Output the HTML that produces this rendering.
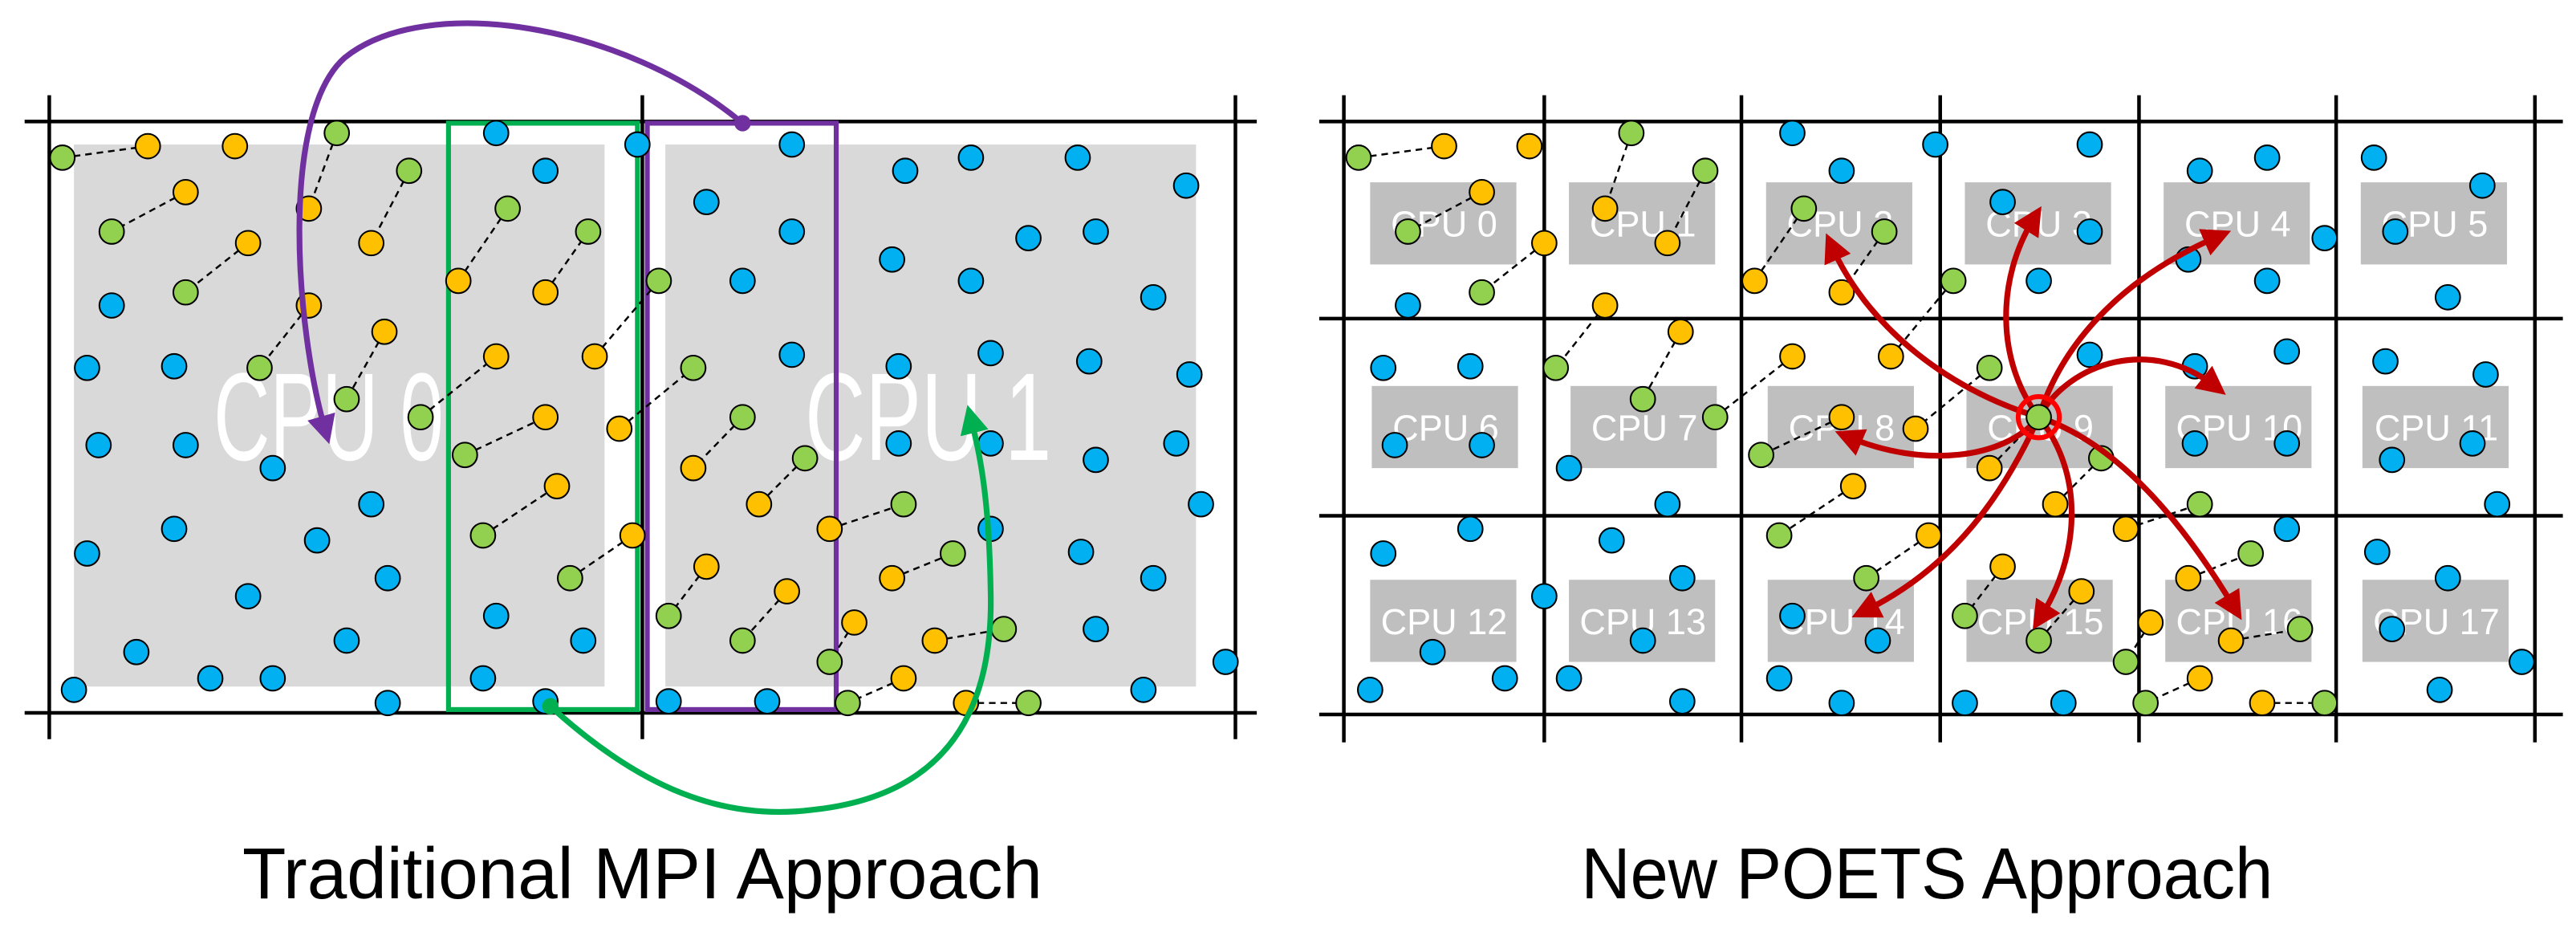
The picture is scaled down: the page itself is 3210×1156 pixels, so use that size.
<!DOCTYPE html>
<html><head><meta charset="utf-8"><style>
html,body{margin:0;padding:0;background:#fff;}
svg{display:block;}
.b{fill:#00b0f0;stroke:#000;stroke-width:1}
.o{fill:#ffc000;stroke:#000;stroke-width:1}
.g{fill:#92d050;stroke:#000;stroke-width:1}
.d{stroke:#000;stroke-width:1.2;stroke-dasharray:4,3;fill:none}
.gl{stroke:#000;stroke-width:2.2}
.cpu{fill:#fff;font-family:"Liberation Sans",sans-serif;font-size:22px;text-anchor:middle}
.r{stroke:#c00000;stroke-width:3.5;fill:none}
</style></head><body>
<svg width="3210" height="1156" viewBox="0 0 1568 565" preserveAspectRatio="none" xmlns="http://www.w3.org/2000/svg">
<defs>
<marker id="ar" viewBox="0 0 10 10" refX="5" refY="5" markerWidth="5" markerHeight="5" orient="auto"><path d="M0,0 L10,5 L0,10 z" fill="#c00000"/></marker>
<marker id="ap" viewBox="0 0 10 10" refX="5" refY="5" markerWidth="5" markerHeight="5" orient="auto"><path d="M0,0 L10,5 L0,10 z" fill="#7030a0"/></marker>
<marker id="ag" viewBox="0 0 10 10" refX="5" refY="5" markerWidth="5" markerHeight="5" orient="auto"><path d="M0,0 L10,5 L0,10 z" fill="#00b050"/></marker>
</defs>
<!-- LEFT PANEL -->
<rect x="45" y="88" width="323" height="330" fill="#d9d9d9"/>
<rect x="405" y="88" width="323" height="330" fill="#d9d9d9"/>
<text x="200" y="280" fill="#fff" font-family="Liberation Sans,sans-serif" font-size="76" text-anchor="middle" textLength="140" lengthAdjust="spacingAndGlyphs">CPU 0</text>
<text x="565" y="280" fill="#fff" font-family="Liberation Sans,sans-serif" font-size="76" text-anchor="middle" textLength="150" lengthAdjust="spacingAndGlyphs">CPU 1</text>
<line class="gl" x1="15" y1="74" x2="765" y2="74"/>
<line class="gl" x1="15" y1="434" x2="765" y2="434"/>
<line class="gl" x1="30" y1="58" x2="30" y2="450"/>
<line class="gl" x1="391" y1="58" x2="391" y2="450"/>
<line class="gl" x1="752" y1="58" x2="752" y2="450"/>
<rect x="273" y="75" width="115" height="357" fill="none" stroke="#00b050" stroke-width="3"/>
<rect x="394" y="75" width="115" height="357" fill="none" stroke="#7030a0" stroke-width="3"/>
<g>
<line class="d" x1="38" y1="96" x2="90" y2="89"/><line class="d" x1="205" y1="81" x2="188" y2="127"/>
<line class="d" x1="249" y1="104" x2="226" y2="148"/><line class="d" x1="113" y1="117" x2="68" y2="141"/>
<line class="d" x1="151" y1="148" x2="113" y2="178"/><line class="d" x1="188" y1="186" x2="158" y2="224"/>
<line class="d" x1="234" y1="202" x2="211" y2="243"/><line class="d" x1="256" y1="254" x2="302" y2="217"/>
<line class="d" x1="283" y1="277" x2="332" y2="254"/><line class="d" x1="279" y1="171" x2="309" y2="127"/>
<line class="d" x1="332" y1="178" x2="358" y2="141"/><line class="d" x1="362" y1="217" x2="401" y2="171"/>
<line class="d" x1="377" y1="261" x2="422" y2="224"/><line class="d" x1="294" y1="326" x2="339" y2="296"/>
<line class="d" x1="347" y1="352" x2="385" y2="326"/><line class="d" x1="452" y1="254" x2="422" y2="285"/>
<line class="d" x1="490" y1="279" x2="462" y2="307"/><line class="d" x1="430" y1="345" x2="407" y2="375"/>
<line class="d" x1="479" y1="360" x2="452" y2="390"/><line class="d" x1="505" y1="322" x2="550" y2="307"/>
<line class="d" x1="543" y1="352" x2="580" y2="337"/><line class="d" x1="520" y1="379" x2="505" y2="403"/>
<line class="d" x1="569" y1="390" x2="611" y2="383"/><line class="d" x1="550" y1="413" x2="516" y2="428"/>
<line class="d" x1="588" y1="428" x2="626" y2="428"/>
</g>
<g>
<circle class="g" cx="38" cy="96" r="7.5"/><circle class="o" cx="90" cy="89" r="7.5"/><circle class="o" cx="143" cy="89" r="7.5"/>
<circle class="g" cx="205" cy="81" r="7.5"/><circle class="o" cx="188" cy="127" r="7.5"/>
<circle class="g" cx="249" cy="104" r="7.5"/><circle class="o" cx="226" cy="148" r="7.5"/>
<circle class="o" cx="113" cy="117" r="7.5"/><circle class="g" cx="68" cy="141" r="7.5"/>
<circle class="o" cx="151" cy="148" r="7.5"/><circle class="g" cx="113" cy="178" r="7.5"/>
<circle class="o" cx="188" cy="186" r="7.5"/><circle class="g" cx="158" cy="224" r="7.5"/>
<circle class="o" cx="234" cy="202" r="7.5"/><circle class="g" cx="211" cy="243" r="7.5"/>
<circle class="b" cx="68" cy="186" r="7.5"/><circle class="b" cx="53" cy="224" r="7.5"/><circle class="b" cx="106" cy="223" r="7.5"/>
<circle class="b" cx="60" cy="271" r="7.5"/><circle class="b" cx="113" cy="271" r="7.5"/><circle class="b" cx="166" cy="285" r="7.5"/>
<circle class="b" cx="226" cy="307" r="7.5"/><circle class="b" cx="106" cy="322" r="7.5"/><circle class="b" cx="53" cy="337" r="7.5"/>
<circle class="b" cx="193" cy="329" r="7.5"/><circle class="b" cx="236" cy="352" r="7.5"/><circle class="b" cx="151" cy="363" r="7.5"/>
<circle class="b" cx="211" cy="390" r="7.5"/><circle class="b" cx="83" cy="397" r="7.5"/><circle class="b" cx="128" cy="413" r="7.5"/>
<circle class="b" cx="166" cy="413" r="7.5"/><circle class="b" cx="45" cy="420" r="7.5"/><circle class="b" cx="236" cy="428" r="7.5"/>
<circle class="g" cx="256" cy="254" r="7.5"/><circle class="o" cx="302" cy="217" r="7.5"/>
<circle class="g" cx="283" cy="277" r="7.5"/><circle class="o" cx="332" cy="254" r="7.5"/>
<circle class="o" cx="279" cy="171" r="7.5"/><circle class="g" cx="309" cy="127" r="7.5"/>
<circle class="o" cx="332" cy="178" r="7.5"/><circle class="g" cx="358" cy="141" r="7.5"/>
<circle class="o" cx="362" cy="217" r="7.5"/><circle class="g" cx="401" cy="171" r="7.5"/>
<circle class="o" cx="377" cy="261" r="7.5"/><circle class="g" cx="422" cy="224" r="7.5"/>
<circle class="g" cx="294" cy="326" r="7.5"/><circle class="o" cx="339" cy="296" r="7.5"/>
<circle class="g" cx="347" cy="352" r="7.5"/><circle class="o" cx="385" cy="326" r="7.5"/>
<circle class="b" cx="302" cy="81" r="7.5"/><circle class="b" cx="332" cy="104" r="7.5"/><circle class="b" cx="388" cy="88" r="7.5"/>
<circle class="b" cx="302" cy="375" r="7.5"/><circle class="b" cx="355" cy="390" r="7.5"/><circle class="b" cx="294" cy="413" r="7.5"/>
<circle class="b" cx="332" cy="427" r="7.5"/>
<circle class="b" cx="482" cy="88" r="7.5"/><circle class="b" cx="430" cy="123" r="7.5"/><circle class="b" cx="482" cy="141" r="7.5"/>
<circle class="b" cx="452" cy="171" r="7.5"/><circle class="b" cx="482" cy="216" r="7.5"/><circle class="b" cx="407" cy="427" r="7.5"/>
<circle class="b" cx="467" cy="427" r="7.5"/>
<circle class="g" cx="452" cy="254" r="7.5"/><circle class="o" cx="422" cy="285" r="7.5"/>
<circle class="g" cx="490" cy="279" r="7.5"/><circle class="o" cx="462" cy="307" r="7.5"/>
<circle class="o" cx="430" cy="345" r="7.5"/><circle class="g" cx="407" cy="375" r="7.5"/>
<circle class="o" cx="479" cy="360" r="7.5"/><circle class="g" cx="452" cy="390" r="7.5"/>
<circle class="o" cx="505" cy="322" r="7.5"/><circle class="g" cx="550" cy="307" r="7.5"/>
<circle class="o" cx="543" cy="352" r="7.5"/><circle class="g" cx="580" cy="337" r="7.5"/>
<circle class="o" cx="520" cy="379" r="7.5"/><circle class="g" cx="505" cy="403" r="7.5"/>
<circle class="o" cx="569" cy="390" r="7.5"/><circle class="g" cx="611" cy="383" r="7.5"/>
<circle class="o" cx="550" cy="413" r="7.5"/><circle class="g" cx="516" cy="428" r="7.5"/>
<circle class="o" cx="588" cy="428" r="7.5"/><circle class="g" cx="626" cy="428" r="7.5"/>
<circle class="b" cx="551" cy="104" r="7.5"/><circle class="b" cx="591" cy="96" r="7.5"/><circle class="b" cx="656" cy="96" r="7.5"/>
<circle class="b" cx="722" cy="113" r="7.5"/><circle class="b" cx="626" cy="145" r="7.5"/><circle class="b" cx="667" cy="141" r="7.5"/>
<circle class="b" cx="543" cy="158" r="7.5"/><circle class="b" cx="591" cy="171" r="7.5"/><circle class="b" cx="702" cy="181" r="7.5"/>
<circle class="b" cx="547" cy="223" r="7.5"/><circle class="b" cx="603" cy="215" r="7.5"/><circle class="b" cx="663" cy="220" r="7.5"/>
<circle class="b" cx="724" cy="228" r="7.5"/><circle class="b" cx="547" cy="270" r="7.5"/><circle class="b" cx="603" cy="270" r="7.5"/>
<circle class="b" cx="667" cy="280" r="7.5"/><circle class="b" cx="716" cy="270" r="7.5"/><circle class="b" cx="731" cy="307" r="7.5"/>
<circle class="b" cx="603" cy="322" r="7.5"/><circle class="b" cx="658" cy="336" r="7.5"/><circle class="b" cx="702" cy="352" r="7.5"/>
<circle class="b" cx="667" cy="383" r="7.5"/><circle class="b" cx="746" cy="403" r="7.5"/><circle class="b" cx="696" cy="420" r="7.5"/>
</g>
<path d="M452,75 C380,15 260,-5 210,35 C170,70 180,200 198,262" stroke="#7030a0" stroke-width="3.5" fill="none" marker-end="url(#ap)"/>
<circle cx="452" cy="75" r="5" fill="#7030a0"/>
<path d="M335,430 C390,480 440,500 495,493 C570,485 605,440 603,360 C602,300 596,275 591,255" stroke="#00b050" stroke-width="3.5" fill="none" marker-end="url(#ag)"/>
<circle cx="335" cy="430" r="5" fill="#00b050"/>
<text x="391" y="547" font-family="Liberation Sans,sans-serif" font-size="44" text-anchor="middle" fill="#000" textLength="487" lengthAdjust="spacingAndGlyphs">Traditional MPI Approach</text>

<!-- RIGHT PANEL -->
<g fill="#bfbfbf">
<rect x="834" y="111" width="89" height="50"/><rect x="955" y="111" width="89" height="50"/><rect x="1075" y="111" width="89" height="50"/>
<rect x="1196" y="111" width="89" height="50"/><rect x="1317" y="111" width="89" height="50"/><rect x="1437" y="111" width="89" height="50"/>
<rect x="835" y="235" width="89" height="50"/><rect x="956" y="235" width="89" height="50"/><rect x="1076" y="235" width="89" height="50"/>
<rect x="1197" y="235" width="89" height="50"/><rect x="1318" y="235" width="89" height="50"/><rect x="1438" y="235" width="89" height="50"/>
<rect x="834" y="353" width="89" height="50"/><rect x="955" y="353" width="89" height="50"/><rect x="1076" y="353" width="89" height="50"/>
<rect x="1197" y="353" width="89" height="50"/><rect x="1318" y="353" width="89" height="50"/><rect x="1438" y="353" width="89" height="50"/>
</g>
<g class="cpu">
<text x="879" y="144">CPU 0</text><text x="1000" y="144">CPU 1</text><text x="1120" y="144">CPU 2</text>
<text x="1241" y="144">CPU 3</text><text x="1362" y="144">CPU 4</text><text x="1482" y="144">CPU 5</text>
<text x="880" y="268">CPU 6</text><text x="1001" y="268">CPU 7</text><text x="1121" y="268">CPU 8</text>
<text x="1242" y="268">CPU 9</text><text x="1363" y="268">CPU 10</text><text x="1483" y="268">CPU 11</text>
<text x="879" y="386">CPU 12</text><text x="1000" y="386">CPU 13</text><text x="1121" y="386">CPU 14</text>
<text x="1242" y="386">CPU 15</text><text x="1363" y="386">CPU 16</text><text x="1483" y="386">CPU 17</text>
</g>
<g class="gl">
<line x1="803" y1="74" x2="1560" y2="74"/><line x1="803" y1="194" x2="1560" y2="194"/>
<line x1="803" y1="314" x2="1560" y2="314"/><line x1="803" y1="435" x2="1560" y2="435"/>
<line x1="818" y1="58" x2="818" y2="452"/><line x1="940" y1="58" x2="940" y2="452"/><line x1="1060" y1="58" x2="1060" y2="452"/>
<line x1="1181" y1="58" x2="1181" y2="452"/><line x1="1302" y1="58" x2="1302" y2="452"/><line x1="1422" y1="58" x2="1422" y2="452"/>
<line x1="1543" y1="58" x2="1543" y2="452"/>
</g>
<g>
<line class="d" x1="827" y1="96" x2="879" y2="89"/><line class="d" x1="993" y1="81" x2="977" y2="127"/>
<line class="d" x1="1038" y1="104" x2="1015" y2="148"/><line class="d" x1="902" y1="117" x2="857" y2="141"/>
<line class="d" x1="940" y1="148" x2="902" y2="178"/><line class="d" x1="977" y1="186" x2="947" y2="224"/>
<line class="d" x1="1023" y1="202" x2="1000" y2="243"/><line class="d" x1="1098" y1="127" x2="1068" y2="171"/>
<line class="d" x1="1147" y1="141" x2="1121" y2="178"/><line class="d" x1="1189" y1="171" x2="1151" y2="217"/>
<line class="d" x1="1091" y1="217" x2="1044" y2="254"/><line class="d" x1="1211" y1="224" x2="1166" y2="261"/>
<line class="d" x1="1121" y1="254" x2="1072" y2="277"/><line class="d" x1="1211" y1="285" x2="1241" y2="254"/>
<line class="d" x1="1279" y1="279" x2="1251" y2="307"/><line class="d" x1="1128" y1="296" x2="1083" y2="326"/>
<line class="d" x1="1174" y1="326" x2="1136" y2="352"/><line class="d" x1="1219" y1="345" x2="1196" y2="375"/>
<line class="d" x1="1267" y1="360" x2="1241" y2="390"/><line class="d" x1="1294" y1="322" x2="1339" y2="307"/>
<line class="d" x1="1332" y1="352" x2="1370" y2="337"/><line class="d" x1="1309" y1="379" x2="1294" y2="403"/>
<line class="d" x1="1358" y1="390" x2="1400" y2="383"/><line class="d" x1="1339" y1="413" x2="1306" y2="428"/>
<line class="d" x1="1377" y1="428" x2="1415" y2="428"/>
</g>
<g>
<circle class="g" cx="827" cy="96" r="7.5"/><circle class="o" cx="879" cy="89" r="7.5"/><circle class="o" cx="931" cy="89" r="7.5"/>
<circle class="g" cx="993" cy="81" r="7.5"/><circle class="o" cx="977" cy="127" r="7.5"/>
<circle class="g" cx="1038" cy="104" r="7.5"/><circle class="o" cx="1015" cy="148" r="7.5"/>
<circle class="o" cx="902" cy="117" r="7.5"/><circle class="g" cx="857" cy="141" r="7.5"/>
<circle class="o" cx="940" cy="148" r="7.5"/><circle class="g" cx="902" cy="178" r="7.5"/>
<circle class="b" cx="857" cy="186" r="7.5"/>
<circle class="o" cx="977" cy="186" r="7.5"/><circle class="g" cx="947" cy="224" r="7.5"/>
<circle class="o" cx="1023" cy="202" r="7.5"/><circle class="g" cx="1000" cy="243" r="7.5"/>
<circle class="b" cx="1091" cy="81" r="7.5"/><circle class="b" cx="1121" cy="104" r="7.5"/><circle class="b" cx="1178" cy="88" r="7.5"/>
<circle class="b" cx="1272" cy="88" r="7.5"/><circle class="b" cx="1219" cy="123" r="7.5"/><circle class="b" cx="1272" cy="141" r="7.5"/>
<circle class="b" cx="1241" cy="171" r="7.5"/><circle class="b" cx="1339" cy="104" r="7.5"/><circle class="b" cx="1380" cy="96" r="7.5"/>
<circle class="b" cx="1445" cy="96" r="7.5"/><circle class="b" cx="1511" cy="113" r="7.5"/><circle class="b" cx="1415" cy="145" r="7.5"/>
<circle class="b" cx="1458" cy="141" r="7.5"/><circle class="b" cx="1332" cy="158" r="7.5"/><circle class="b" cx="1380" cy="171" r="7.5"/>
<circle class="b" cx="1490" cy="181" r="7.5"/>
<circle class="g" cx="1098" cy="127" r="7.5"/><circle class="o" cx="1068" cy="171" r="7.5"/>
<circle class="g" cx="1147" cy="141" r="7.5"/><circle class="o" cx="1121" cy="178" r="7.5"/>
<circle class="g" cx="1189" cy="171" r="7.5"/><circle class="o" cx="1151" cy="217" r="7.5"/>
<circle class="o" cx="1091" cy="217" r="7.5"/><circle class="g" cx="1044" cy="254" r="7.5"/>
<circle class="g" cx="1211" cy="224" r="7.5"/><circle class="o" cx="1166" cy="261" r="7.5"/>
<circle class="o" cx="1121" cy="254" r="7.5"/><circle class="g" cx="1072" cy="277" r="7.5"/>
<circle class="b" cx="842" cy="224" r="7.5"/><circle class="b" cx="895" cy="223" r="7.5"/><circle class="b" cx="849" cy="271" r="7.5"/>
<circle class="b" cx="902" cy="271" r="7.5"/><circle class="b" cx="955" cy="285" r="7.5"/><circle class="b" cx="1015" cy="307" r="7.5"/>
<circle class="b" cx="1272" cy="216" r="7.5"/><circle class="b" cx="1336" cy="223" r="7.5"/><circle class="b" cx="1392" cy="214" r="7.5"/>
<circle class="b" cx="1452" cy="220" r="7.5"/><circle class="b" cx="1513" cy="228" r="7.5"/><circle class="b" cx="1336" cy="270" r="7.5"/>
<circle class="b" cx="1392" cy="270" r="7.5"/><circle class="b" cx="1456" cy="280" r="7.5"/><circle class="b" cx="1505" cy="270" r="7.5"/>
<circle class="b" cx="1520" cy="307" r="7.5"/>
<circle class="o" cx="1211" cy="285" r="7.5"/>
<circle class="g" cx="1279" cy="279" r="7.5"/><circle class="o" cx="1251" cy="307" r="7.5"/>
<circle class="o" cx="1128" cy="296" r="7.5"/><circle class="g" cx="1083" cy="326" r="7.5"/>
<circle class="o" cx="1174" cy="326" r="7.5"/><circle class="g" cx="1136" cy="352" r="7.5"/>
<circle class="o" cx="1219" cy="345" r="7.5"/><circle class="g" cx="1196" cy="375" r="7.5"/>
<circle class="o" cx="1267" cy="360" r="7.5"/><circle class="g" cx="1241" cy="390" r="7.5"/>
<circle class="o" cx="1294" cy="322" r="7.5"/><circle class="g" cx="1339" cy="307" r="7.5"/>
<circle class="o" cx="1332" cy="352" r="7.5"/><circle class="g" cx="1370" cy="337" r="7.5"/>
<circle class="o" cx="1309" cy="379" r="7.5"/><circle class="g" cx="1294" cy="403" r="7.5"/>
<circle class="o" cx="1358" cy="390" r="7.5"/><circle class="g" cx="1400" cy="383" r="7.5"/>
<circle class="o" cx="1339" cy="413" r="7.5"/><circle class="g" cx="1306" cy="428" r="7.5"/>
<circle class="o" cx="1377" cy="428" r="7.5"/><circle class="g" cx="1415" cy="428" r="7.5"/>
<circle class="b" cx="842" cy="337" r="7.5"/><circle class="b" cx="895" cy="322" r="7.5"/><circle class="b" cx="940" cy="363" r="7.5"/>
<circle class="b" cx="981" cy="329" r="7.5"/><circle class="b" cx="1024" cy="352" r="7.5"/><circle class="b" cx="872" cy="397" r="7.5"/>
<circle class="b" cx="834" cy="420" r="7.5"/><circle class="b" cx="916" cy="413" r="7.5"/><circle class="b" cx="955" cy="413" r="7.5"/>
<circle class="b" cx="1000" cy="390" r="7.5"/><circle class="b" cx="1024" cy="427" r="7.5"/><circle class="b" cx="1091" cy="375" r="7.5"/>
<circle class="b" cx="1143" cy="390" r="7.5"/><circle class="b" cx="1083" cy="413" r="7.5"/><circle class="b" cx="1121" cy="428" r="7.5"/>
<circle class="b" cx="1196" cy="428" r="7.5"/><circle class="b" cx="1256" cy="428" r="7.5"/><circle class="b" cx="1392" cy="322" r="7.5"/>
<circle class="b" cx="1447" cy="336" r="7.5"/><circle class="b" cx="1490" cy="352" r="7.5"/><circle class="b" cx="1456" cy="383" r="7.5"/>
<circle class="b" cx="1535" cy="403" r="7.5"/><circle class="b" cx="1485" cy="420" r="7.5"/>
</g>
<g class="r">
<path d="M1241,254 C1180,235 1135,195 1115,150" marker-end="url(#ar)"/>
<path d="M1241,254 C1215,220 1215,170 1238,133" marker-end="url(#ar)"/>
<path d="M1241,254 C1255,210 1290,170 1350,144" marker-end="url(#ar)"/>
<path d="M1241,254 C1260,220 1310,205 1348,235" marker-end="url(#ar)"/>
<path d="M1241,254 C1220,280 1170,285 1125,266" marker-end="url(#ar)"/>
<path d="M1241,254 C1220,300 1190,345 1135,372" marker-end="url(#ar)"/>
<path d="M1241,254 C1270,290 1265,340 1242,376" marker-end="url(#ar)"/>
<path d="M1241,254 C1290,270 1330,320 1360,370" marker-end="url(#ar)"/>
</g>
<circle class="g" cx="1241" cy="254" r="7.5"/>
<circle cx="1241" cy="254" r="12.5" fill="none" stroke="#ff0000" stroke-width="3"/>
<text x="1173" y="547" font-family="Liberation Sans,sans-serif" font-size="44" text-anchor="middle" fill="#000" textLength="421" lengthAdjust="spacingAndGlyphs">New POETS Approach</text>
</svg>
</body></html>
